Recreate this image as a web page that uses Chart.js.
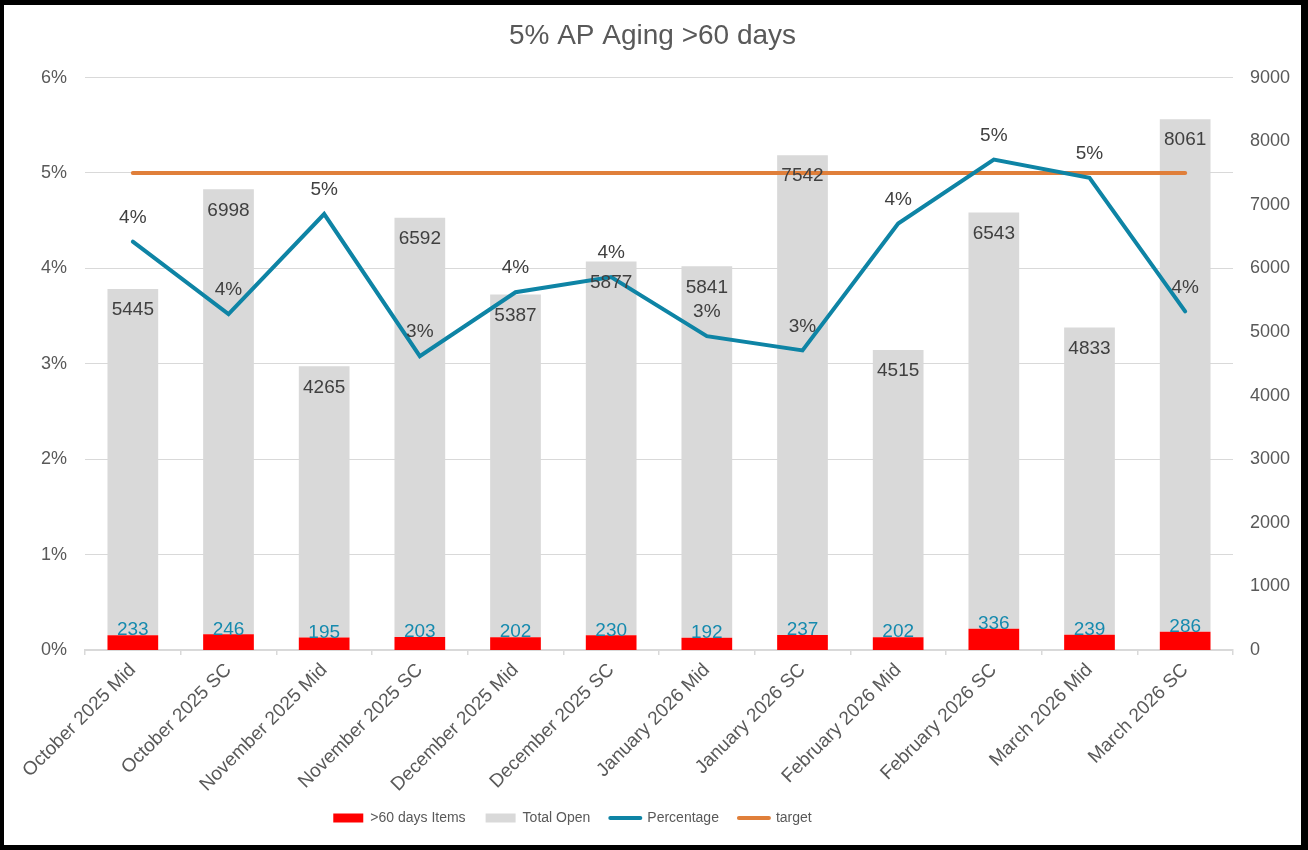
<!DOCTYPE html>
<html>
<head>
<meta charset="utf-8">
<script src="https://cdn.jsdelivr.net/npm/chart.js@4/dist/chart.umd.min.js"></script>
<style>
  html, body { margin: 0; padding: 0; background: #fff; }
  #frame {
    width: 1308px; height: 850px; box-sizing: border-box;
    border-style: solid; border-color: #000;
    border-width: 5px 7px 5px 4px;
    background: #fff;
  }
  #wrap { position: relative; width: 1297px; height: 840px; }
</style>
</head>
<body>
<div id="frame"><div id="wrap"><canvas id="agingChart"></canvas></div></div>
<script>
const categories = ['October 2025 Mid', 'October 2025 SC', 'November 2025 Mid', 'November 2025 SC',
  'December 2025 Mid', 'December 2025 SC', 'January 2026 Mid', 'January 2026 SC',
  'February 2026 Mid', 'February 2026 SC', 'March 2026 Mid', 'March 2026 SC'];
const overdueItems = [233, 246, 195, 203, 202, 230, 192, 237, 202, 336, 239, 286];
const totalOpen = [5445, 6998, 4265, 6592, 5387, 5877, 5841, 7542, 4515, 6543, 4833, 8061];
// percent of items older than 60 days
const percentage = [4.28, 3.52, 4.57, 3.08, 3.75, 3.91, 3.29, 3.14, 4.47, 5.14, 4.95, 3.55];
const target = [5, 5, 5, 5, 5, 5, 5, 5, 5, 5, 5, 5];

const textColor = '#595959';
const fontFamily = "'Liberation Sans', Arial, sans-serif";
Chart.defaults.font.family = fontFamily;
Chart.defaults.font.size = 18;
Chart.defaults.color = textColor;

// draws the value labels on bars and line points
const valueLabels = {
  id: 'valueLabels',
  afterDatasetsDraw(chart) {
    const ctx = chart.ctx;
    ctx.save();
    ctx.font = '19px ' + fontFamily;
    ctx.textAlign = 'center';
    ctx.textBaseline = 'middle';
    chart.data.datasets.forEach((ds, i) => {
      if (ds.label === 'target') return;
      const meta = chart.getDatasetMeta(i);
      meta.data.forEach((el, j) => {
        const v = ds.data[j];
        if (ds.label === '>60 days Items') {
          ctx.fillStyle = '#168aae';
          ctx.fillText(v, el.x, el.y - 5);
        } else if (ds.label === 'Total Open') {
          ctx.fillStyle = '#404040';
          ctx.fillText(v, el.x, el.y + 21);
        } else {
          ctx.fillStyle = '#404040';
          ctx.fillText(Math.round(v) + '%', el.x, el.y - 24);
        }
      });
    });
    ctx.restore();
  },
  afterLayout(chart) {
    // excel puts the legend a bit left of centre
    const lg = chart.legend;
    if (!lg) return;
    lg.left -= 80; lg.right -= 80;
    lg.top -= 10; lg.bottom -= 10;
  }
};

new Chart(document.getElementById('agingChart'), {
  type: 'bar',
  data: {
    labels: categories,
    datasets: [
      {
        label: '>60 days Items',
        data: overdueItems,
        backgroundColor: '#ff0000',
        borderWidth: 0,
        yAxisID: 'y1',
        order: 3,
        barPercentage: 0.53,
        categoryPercentage: 1
      },
      {
        label: 'Total Open',
        data: totalOpen,
        backgroundColor: '#d9d9d9',
        borderWidth: 0,
        yAxisID: 'y1',
        order: 4,
        barPercentage: 0.53,
        categoryPercentage: 1
      },
      {
        type: 'line',
        label: 'Percentage',
        data: percentage,
        borderColor: '#0e84a5',
        backgroundColor: '#0e84a5',
        borderWidth: 4,
        borderCapStyle: 'round',
        pointRadius: 0,
        tension: 0,
        yAxisID: 'y',
        order: 1
      },
      {
        type: 'line',
        label: 'target',
        data: target,
        borderColor: '#e07f3a',
        backgroundColor: '#e07f3a',
        borderWidth: 4,
        borderCapStyle: 'round',
        pointRadius: 0,
        tension: 0,
        yAxisID: 'y',
        order: 2
      }
    ]
  },
  options: {
    responsive: true,
    maintainAspectRatio: false,
    animation: false,
    layout: { padding: 0 },
    plugins: {
      title: {
        display: true,
        text: '5% AP Aging >60 days',
        color: textColor,
        font: { size: 28, weight: 'normal' },
        padding: { top: 14, bottom: 25 }
      },
      legend: {
        position: 'bottom',
        labels: {
          usePointStyle: true,
          pointStyleWidth: 30,
          boxHeight: 9,
          padding: 20,
          color: textColor,
          font: { size: 14 },
          sort: (a, b) => a.datasetIndex - b.datasetIndex,
          generateLabels: chart => Chart.defaults.plugins.legend.labels.generateLabels(chart).map(l => {
            const ds = chart.data.datasets[l.datasetIndex];
            l.pointStyle = ds.type === 'line' ? 'line' : 'rect';
            if (ds.type !== 'line') l.lineWidth = 0;
            l.lineCap = 'round';
            return l;
          })
        }
      },
      tooltip: { enabled: false }
    },
    scales: {
      x: {
        stacked: true,
        grid: {
          display: true,
          drawOnChartArea: false,
          drawTicks: true,
          tickLength: 5,
          color: '#d9d9d9',
          lineWidth: 1.5
        },
        border: { display: true, color: '#d9d9d9', width: 2 },
        ticks: {
          autoSkip: false,
          minRotation: 45,
          maxRotation: 45,
          padding: 4,
          color: textColor,
          font: { size: 19 }
        },
        afterFit(scale) { scale.height = 151; }
      },
      y: {
        position: 'left',
        min: 0,
        max: 6,
        ticks: {
          stepSize: 1,
          padding: 18,
          color: textColor,
          callback: v => v + '%'
        },
        grid: { color: '#d9d9d9', lineWidth: 1, drawTicks: false },
        border: { display: false },
        afterFit(scale) { scale.width = 81; }
      },
      y1: {
        position: 'right',
        stacked: true,
        min: 0,
        max: 9000,
        ticks: {
          stepSize: 1000,
          padding: 17,
          color: textColor,
          callback: v => String(v)
        },
        grid: { display: false, drawTicks: false },
        border: { display: false },
        afterFit(scale) { scale.width = 68; }
      }
    }
  },
  plugins: [valueLabels]
});
</script>
</body>
</html>
